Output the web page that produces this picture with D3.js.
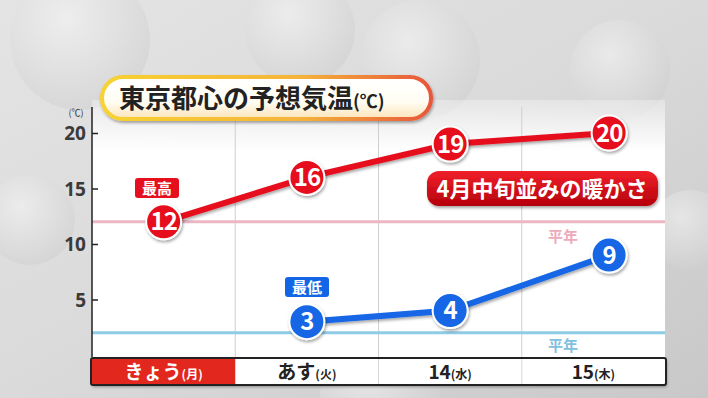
<!DOCTYPE html>
<html lang="ja">
<head>
<meta charset="UTF-8">
<title>東京都心の予想気温</title>
<script src="https://cdn.jsdelivr.net/npm/d3@7"></script>
<style>
    body{ margin:0; background:#d9d9d9; overflow:hidden; }
    svg{ display:block; font-family:"Noto Sans CJK JP", "Noto Sans", sans-serif; }
</style>
</head>
<body>
<script>
    // data
    const days = ["きょう", "あす", "14", "15"];
    const weekdays = ["(月)", "(火)", "(水)", "(木)"];
    const highs = [12, 16, 19, 20];
    const lows = [null, 3, 4, 9];
    const normalHigh = 12;
    const normalLow = 2;
    const yTicks = [5, 10, 15, 20];
    // last day's bubbles sit a bit right of the column centre
    const dayShift = [0, 0, 0, 0.11];

    const width = 708, height = 398;
    const plot = { left: 92, right: 665, top: 100, bottom: 357 };

    const svg = d3.select("body").append("svg")
        .attr("width", width)
        .attr("height", height);

    const defs = svg.append("defs");

    // background gradient
    const bg = defs.append("linearGradient").attr("id", "bg")
        .attr("x1", 0).attr("y1", 0).attr("x2", 1).attr("y2", 1);
    bg.append("stop").attr("offset", 0).attr("stop-color", "#e4e4e4");
    bg.append("stop").attr("offset", 0.5).attr("stop-color", "#dadada");
    bg.append("stop").attr("offset", 1).attr("stop-color", "#c8c8c8");

    const ball = defs.append("radialGradient").attr("id", "ball")
        .attr("cx", 0.4).attr("cy", 0.35).attr("r", 0.65);
    ball.append("stop").attr("offset", 0).attr("stop-color", "#f6f6f6");
    ball.append("stop").attr("offset", 1).attr("stop-color", "#d0d0d0");

    const plotFade = defs.append("linearGradient").attr("id", "plotFade")
        .attr("x1", 0).attr("y1", 0).attr("x2", 0).attr("y2", 1);
    plotFade.append("stop").attr("offset", 0).attr("stop-color", "#fff").attr("stop-opacity", 0.3);
    plotFade.append("stop").attr("offset", 0.2).attr("stop-color", "#fff").attr("stop-opacity", 1);
    plotFade.append("stop").attr("offset", 1).attr("stop-color", "#fff").attr("stop-opacity", 1);

    const titleFill = defs.append("linearGradient").attr("id", "titleFill")
        .attr("x1", 0).attr("y1", 0).attr("x2", 0).attr("y2", 1);
    titleFill.append("stop").attr("offset", 0).attr("stop-color", "#ffffff");
    titleFill.append("stop").attr("offset", 0.6).attr("stop-color", "#fffdf2");
    titleFill.append("stop").attr("offset", 1).attr("stop-color", "#fbe3b8");

    const titleEdge = defs.append("linearGradient").attr("id", "titleEdge")
        .attr("x1", 0).attr("y1", 0).attr("x2", 1).attr("y2", 0);
    titleEdge.append("stop").attr("offset", 0).attr("stop-color", "#f7d230");
    titleEdge.append("stop").attr("offset", 0.6).attr("stop-color", "#f5b43a");
    titleEdge.append("stop").attr("offset", 1).attr("stop-color", "#e8563a");

    const redPill = defs.append("linearGradient").attr("id", "redPill")
        .attr("x1", 0).attr("y1", 0).attr("x2", 0).attr("y2", 1);
    redPill.append("stop").attr("offset", 0).attr("stop-color", "#f0202a");
    redPill.append("stop").attr("offset", 1).attr("stop-color", "#b5000c");

    const shadow = defs.append("filter").attr("id", "shadow")
        .attr("x", "-20%").attr("y", "-20%").attr("width", "140%").attr("height", "150%");
    shadow.append("feDropShadow").attr("dx", 1).attr("dy", 2)
        .attr("stdDeviation", 1.5).attr("flood-color", "#000").attr("flood-opacity", 0.35);

    // background with some soft shapes
    svg.append("rect").attr("width", width).attr("height", height).attr("fill", "url(#bg)");
    const blobs = [[80, 40, 70], [300, 30, 55], [420, 60, 60], [620, 70, 50], [30, 220, 45], [690, 230, 40], [380, 395, 60]];
    svg.selectAll(".blob").data(blobs).enter().append("circle")
        .attr("cx", d => d[0]).attr("cy", d => d[1]).attr("r", d => d[2])
        .attr("fill", "url(#ball)").attr("opacity", 0.55);

    // plot panel
    svg.append("rect")
        .attr("x", plot.left).attr("y", plot.top)
        .attr("width", plot.right - plot.left).attr("height", plot.bottom - plot.top)
        .attr("fill", "url(#plotFade)");

    // scales
    const x = d3.scaleBand().domain(days).range([plot.left, plot.right]);
    const y = d3.scaleLinear().domain([0, 20]).range([355, 133]);
    const px = i => x(days[i]) + x.bandwidth() * (0.5 + dayShift[i]);

    // column separators
    svg.selectAll(".sep").data(days.slice(1)).enter().append("line")
        .attr("x1", d => x(d)).attr("x2", d => x(d))
        .attr("y1", 107).attr("y2", plot.bottom)
        .attr("stroke", "#cfcfcf").attr("stroke-width", 1);

    // normal lines
    svg.append("line")
        .attr("x1", plot.left).attr("x2", plot.right)
        .attr("y1", y(normalHigh)).attr("y2", y(normalHigh))
        .attr("stroke", "#ecb6c4").attr("stroke-width", 3);
    svg.append("line")
        .attr("x1", plot.left).attr("x2", plot.right)
        .attr("y1", y(normalLow)).attr("y2", y(normalLow))
        .attr("stroke", "#8fcbe6").attr("stroke-width", 3);

    svg.append("text").attr("x", 563).attr("y", y(normalHigh) + 20)
        .attr("text-anchor", "middle").attr("font-size", 15).attr("font-weight", 700)
        .attr("fill", "#eeaabb").text("平年");
    svg.append("text").attr("x", 563).attr("y", y(normalLow) + 18)
        .attr("text-anchor", "middle").attr("font-size", 15).attr("font-weight", 700)
        .attr("fill", "#7fc0e0").text("平年");

    // y axis
    const yAxis = svg.append("g")
        .attr("transform", `translate(${plot.left},0)`)
        .call(d3.axisRight(y).tickValues(yTicks).tickSize(6).tickFormat(""));
    yAxis.select(".domain").attr("d", `M0,107V${plot.bottom}`).attr("stroke", "#222").attr("stroke-width", 1.5);
    yAxis.selectAll(".tick line").attr("stroke", "#222").attr("stroke-width", 1.5);

    svg.selectAll(".ylab").data(yTicks).enter().append("text")
        .attr("x", 86).attr("y", d => y(d) + 7)
        .attr("text-anchor", "end").attr("font-family", "'Noto Sans', sans-serif")
        .attr("font-size", 19).attr("font-weight", 700)
        .attr("fill", "#3a3a3a").text(d => d);
    svg.append("text").attr("x", 76).attr("y", 116)
        .attr("text-anchor", "middle").attr("font-size", 9).attr("fill", "#333").text("(℃)");

    // series
    const line = d3.line().x(d => px(d.i)).y(d => y(d.v));
    function drawSeries(values, color) {
        const pts = values.map((v, i) => ({ v, i })).filter(d => d.v !== null);
        const g = svg.append("g");
        g.append("path").datum(pts).attr("d", line)
            .attr("fill", "none").attr("stroke", color).attr("stroke-width", 6)
            .attr("filter", "url(#shadow)");
        const dots = g.selectAll("g").data(pts).enter().append("g")
            .attr("transform", d => `translate(${px(d.i)},${y(d.v)})`);
        dots.append("circle").attr("r", 17.5)
            .attr("fill", color).attr("stroke", "#fff").attr("stroke-width", 2)
            .attr("filter", "url(#shadow)");
        dots.append("text").attr("y", 8.5).attr("text-anchor", "middle")
            .attr("font-size", 24).attr("font-weight", 700).attr("fill", "#fff")
            .attr("letter-spacing", -1).text(d => d.v);
    }
    drawSeries(highs, "#e60f1e");
    drawSeries(lows, "#1266e6");

    // series tags
    function tag(label, cx, cy, color) {
        svg.append("rect").attr("x", cx - 22).attr("y", cy - 10).attr("width", 44).attr("height", 20)
            .attr("rx", 3).attr("fill", color);
        svg.append("text").attr("x", cx).attr("y", cy + 6).attr("text-anchor", "middle")
            .attr("font-size", 15).attr("font-weight", 700).attr("fill", "#fff").text(label);
    }
    tag("最高", 157, 188, "#e60f1e");
    tag("最低", 307, 287, "#1266e6");

    // comment pill
    svg.append("rect").attr("x", 427).attr("y", 171).attr("width", 231).attr("height", 35)
        .attr("rx", 12).attr("fill", "url(#redPill)").attr("filter", "url(#shadow)");
    svg.append("text").attr("x", 542).attr("y", 197).attr("text-anchor", "middle")
        .attr("font-size", 22).attr("font-weight", 700).attr("fill", "#fff")
        .text("4月中旬並みの暖かさ");

    // title pill
    svg.append("rect").attr("x", 102).attr("y", 77).attr("width", 329).attr("height", 42)
        .attr("rx", 21).attr("fill", "url(#titleFill)")
        .attr("stroke", "url(#titleEdge)").attr("stroke-width", 4)
        .attr("filter", "url(#shadow)");
    const title = svg.append("text").attr("x", 119).attr("y", 108)
        .attr("font-size", 26).attr("font-weight", 700).attr("fill", "#222");
    title.append("tspan").text("東京都心の予想気温");
    title.append("tspan").attr("font-size", 18).text("(℃)");

    // date bar
    const bar = svg.append("g");
    bar.append("rect").attr("x", plot.left - 1).attr("y", 358).attr("width", plot.right - plot.left + 2)
        .attr("height", 27).attr("rx", 2).attr("fill", "#fff").attr("filter", "url(#shadow)");
    bar.append("rect").attr("x", x(days[0])).attr("y", 358).attr("width", x.bandwidth())
        .attr("height", 27).attr("fill", "#e2271f");
    bar.selectAll(".dsep").data(days.slice(2)).enter().append("line")
        .attr("x1", d => x(d)).attr("x2", d => x(d)).attr("y1", 359).attr("y2", 384)
        .attr("stroke", "#d8d8d8");
    bar.append("rect").attr("x", plot.left - 1).attr("y", 358).attr("width", plot.right - plot.left + 2)
        .attr("height", 27).attr("rx", 2).attr("fill", "none").attr("stroke", "#222").attr("stroke-width", 2);
    const labs = bar.selectAll(".day").data(days).enter().append("text")
        .attr("x", d => x(d) + x.bandwidth() / 2).attr("y", 379)
        .attr("text-anchor", "middle").attr("font-weight", 700)
        .attr("fill", (d, i) => i === 0 ? "#fff" : "#222");
    labs.append("tspan").attr("font-size", 19).text(d => d);
    labs.append("tspan").attr("font-size", 12).text((d, i) => weekdays[i]);
</script>
</body>
</html>
